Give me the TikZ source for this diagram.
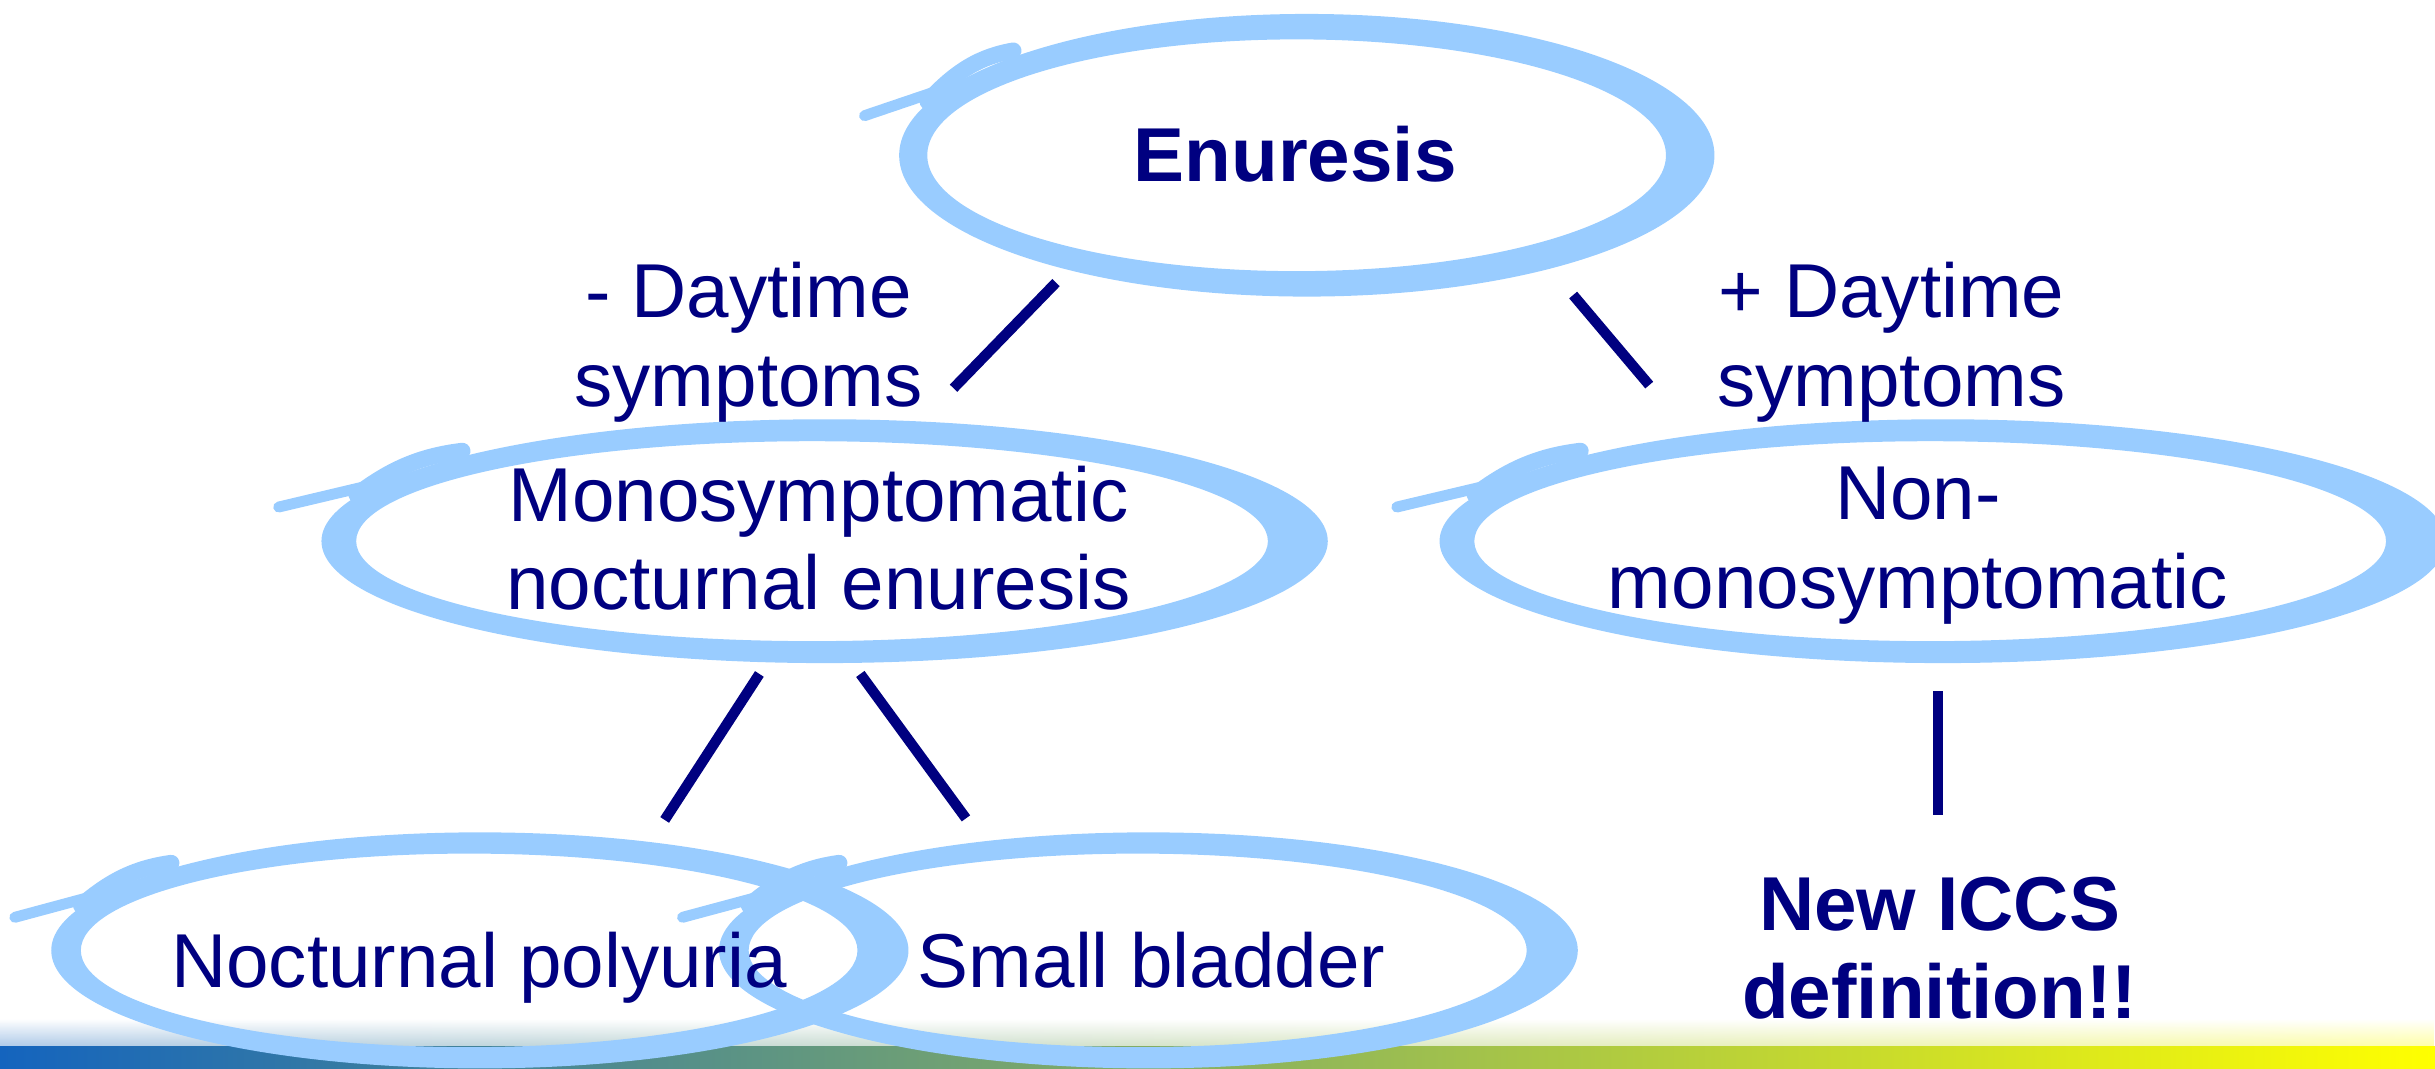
\documentclass[tikz,border=0pt]{standalone}
\usepackage{fontspec}
\setmainfont{Liberation Sans}
\usepackage{xcolor}
\usetikzlibrary{fadings}

\definecolor{brushblue}{RGB}{153,204,255}
\definecolor{inknavy}{RGB}{0,0,128}
\definecolor{barblue}{RGB}{20,100,190}
\definecolor{bargray}{RGB}{165,185,150}
\definecolor{baryellow}{RGB}{255,255,0}

\tikzset{
    lbl/.style={text=inknavy, font=\fontsize{14}{16.2}\selectfont, align=center, inner sep=0pt},
    lblbold/.style={lbl, font=\bfseries\fontsize{14}{16.2}\selectfont},
    link/.style={draw=inknavy, line width=1.9pt}
}

\begin{document}
\begin{tikzpicture}
            \def\w{15.68}
            \def\h{6.88}
            \useasboundingbox (0,0) rectangle (\w,\h);

            % colour bar at the foot
            \shade[left color=barblue, middle color=bargray, right color=baryellow] (0,0) rectangle (\w,0.14);
            \shade[left color=barblue, middle color=bargray, right color=baryellow, opacity=0.35, path fading=north] (0,0.14) rectangle (\w,0.32);

            % brush ellipses: centre x, centre y, half width, half height
            \foreach \x/\y/\a/\b in {8.415/5.88/2.625/0.91, 5.31/3.395/3.24/0.785, 12.51/3.395/3.24/0.785, 3.09/0.76/2.76/0.76, 7.395/0.76/2.765/0.76}{
                \begin{scope}[shift={(\x,\y)}, xscale=\a, yscale=\b]
                    \fill[brushblue, even odd rule] (0,0) circle (1) (-0.025,0) ellipse (0.906 and 0.82);
                    \draw[brushblue, line width=2pt, line cap=round] (-1.085,0.28) -- (-0.86,0.5);
                    \draw[brushblue, line width=3pt, line cap=round] (-0.93,0.38) .. controls (-0.86,0.6) and (-0.8,0.7) .. (-0.72,0.74);
                \end{scope}
            }

            \node[lblbold, anchor=base] (enuresis) at (8.34,5.71) {Enuresis};
            \node[lbl] (daynone) at (4.82,4.675) {- Daytime\\symptoms};
            \node[lbl] (dayplus) at (12.18,4.675) {+ Daytime\\symptoms};
            \node[lbl] (mne) at (5.27,3.415) {Monosymptomatic\\nocturnal enuresis};
            \node[lbl] (nmne) at (12.35,3.365) {Non-\\monosymptomatic};
            \node[lbl, anchor=base] (polyuria) at (3.085,0.52) {Nocturnal polyuria};
            \node[lbl, anchor=base] (bladder) at (7.415,0.52) {Small bladder};
            \node[lblbold] (iccs) at (12.49,0.775) {New ICCS\\definition!!};

            \coordinate (enuL) at (6.80,5.06);
            \coordinate (mneT) at (6.14,4.38);
            \coordinate (enuR) at (10.13,4.98);
            \coordinate (nmneT) at (10.62,4.40);
            \coordinate (mneL) at (4.89,2.54);
            \coordinate (polyT) at (4.28,1.60);
            \coordinate (mneR) at (5.54,2.54);
            \coordinate (bladT) at (6.22,1.61);
            \coordinate (nmneB) at (12.48,2.43);
            \coordinate (iccsT) at (12.48,1.63);

            \draw[link] (enuL) -- (mneT);
            \draw[link] (enuR) -- (nmneT);
            \draw[link] (mneL) -- (polyT);
            \draw[link] (mneR) -- (bladT);
            \draw[link] (nmneB) -- (iccsT);

        \end{tikzpicture}
\end{document}
